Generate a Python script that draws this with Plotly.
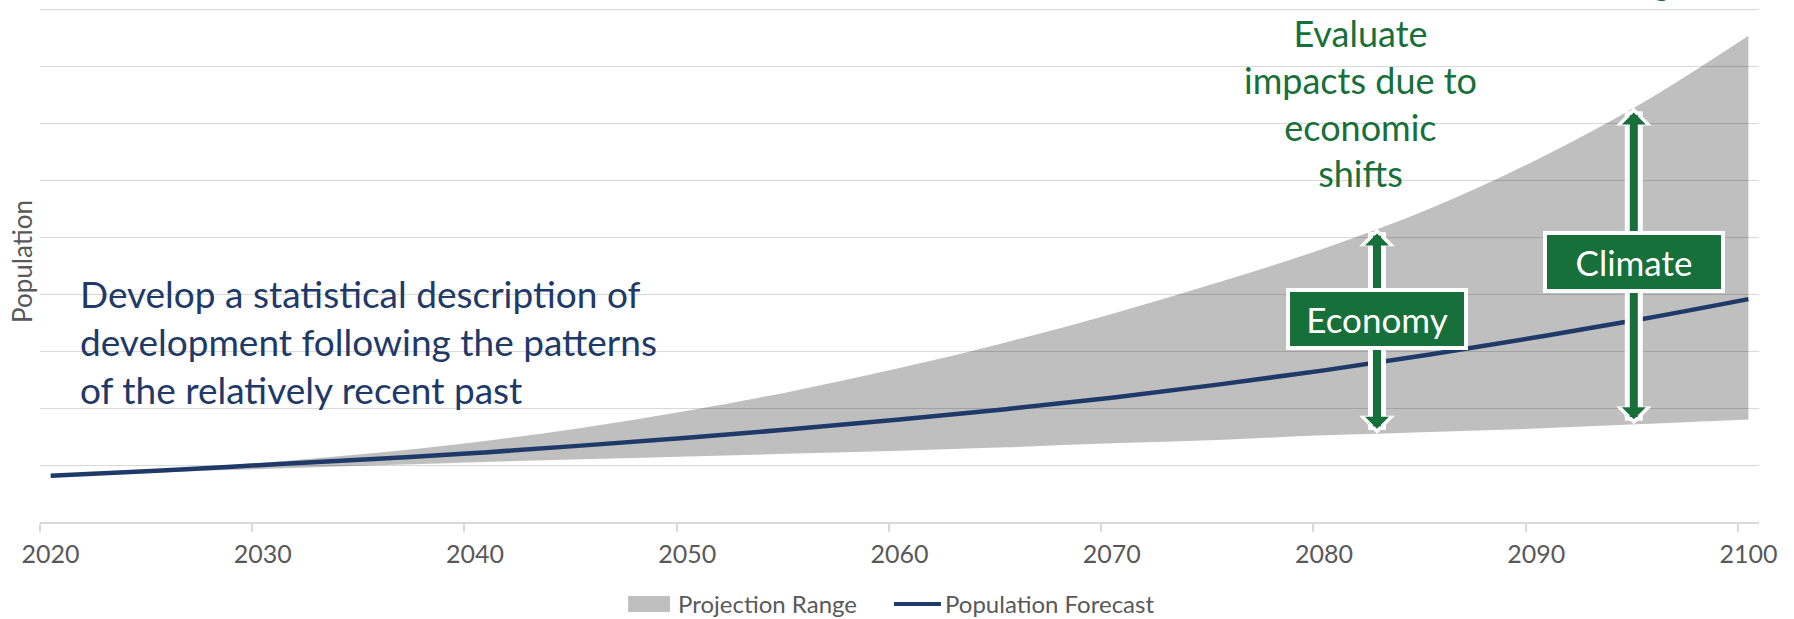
import numpy as np
import plotly.graph_objects as go

# ---- data -------------------------------------------------------------
years = [2020, 2025, 2030, 2035, 2040, 2045, 2050, 2055, 2060,
         2065, 2070, 2075, 2080, 2085, 2090, 2095, 2100]
population_forecast = [0.81, 0.90, 1.00, 1.10, 1.21, 1.34, 1.48, 1.63, 1.80,
                       1.98, 2.18, 2.41, 2.66, 2.94, 3.24, 3.56, 3.91]
range_low = [0.81, 0.87, 0.93, 0.99, 1.05, 1.10, 1.15, 1.20, 1.25,
             1.31, 1.38, 1.44, 1.52, 1.58, 1.64, 1.72, 1.80]
range_high = [0.81, 0.91, 1.04, 1.20, 1.40, 1.65, 1.95, 2.30, 2.70,
              3.15, 3.65, 4.20, 4.80, 5.50, 6.35, 7.35, 8.53]
tick_years = [2020, 2030, 2040, 2050, 2060, 2070, 2080, 2090, 2100]

# driver arrows (year where each double arrow spans the projection range)
economy_year = 2082.5
climate_year = 2094.6

# ---- style ------------------------------------------------------------
FONT = "Lato, 'Open Sans', sans-serif"
GREEN = "#17703A"
NAVY = "#1F3A68"
BAND = "rgba(0,0,0,0.25)"
GRID = "#D9D9D9"
AXIS_TXT = "#595959"

fig = go.Figure()

fig.add_trace(go.Scatter(
    x=years, y=range_low, mode="lines", line=dict(width=0, shape="spline"),
    showlegend=False, hoverinfo="skip"))
fig.add_trace(go.Scatter(
    x=years, y=range_high, mode="lines", line=dict(width=0, shape="spline"),
    fill="tonexty", fillcolor=BAND, name="Projection Range", showlegend=False))
fig.add_trace(go.Scatter(
    x=years, y=population_forecast, mode="lines", name="Population Forecast",
    line=dict(color=NAVY, width=4.5, shape="spline"), showlegend=False))


def double_arrow(xv, label, label_y):
    lo = float(np.interp(xv, years, range_low))
    hi = float(np.interp(xv, years, range_high))
    mid = (lo + hi) / 2
    anns = []
    for end in (hi, lo):
        # white outline underneath, green arrow on top
        anns.append(dict(x=xv, y=end, ax=xv, ay=mid, xref="x", yref="y",
                         axref="x", ayref="y", text="", showarrow=True,
                         arrowhead=1, arrowsize=0.33, arrowwidth=18,
                         arrowcolor="white", standoff=0))
    for end in (hi, lo):
        anns.append(dict(x=xv, y=end, ax=xv, ay=mid, xref="x", yref="y",
                         axref="x", ayref="y", text="", showarrow=True,
                         arrowhead=1, arrowsize=0.5, arrowwidth=8,
                         arrowcolor=GREEN, standoff=5))
    anns.append(dict(x=xv, y=label_y, xref="x", yref="y", text=label,
                     showarrow=False, font=dict(family=FONT, size=35, color="white"),
                     bgcolor=GREEN, bordercolor="white", borderwidth=4,
                     borderpad=4, width=166, height=46))
    return anns


annotations = []
annotations += double_arrow(economy_year, "Economy", 3.56)
annotations += double_arrow(climate_year, "Climate", 4.57)

annotations.append(dict(
    x=0.022, y=0.345, xref="paper", yref="paper", xanchor="left", yanchor="middle",
    align="left", showarrow=False,
    text="Develop a statistical description of<br>development following the patterns<br>of the relatively recent past",
    font=dict(family=FONT, size=37, color=NAVY)))

annotations.append(dict(
    x=2081.7, y=0.802, xref="x", yref="paper", xanchor="center", yanchor="middle",
    align="center", showarrow=False,
    text="Evaluate<br>impacts due to<br>economic<br>shifts",
    font=dict(family=FONT, size=36, color=GREEN)))

annotations.append(dict(
    x=climate_year, y=0.99, xref="x", yref="paper", xanchor="center", yanchor="bottom",
    showarrow=False, text="change",
    font=dict(family=FONT, size=36, color=GREEN)))

annotations.append(dict(
    x=-0.0105, y=0.5, xref="paper", yref="paper", xanchor="center", yanchor="middle",
    textangle=-90, showarrow=False, text="Population",
    font=dict(family=FONT, size=26, color=AXIS_TXT)))

# legend drawn below the axis: swatch + label for each series
LEG_Y = -0.157
annotations.append(dict(
    x=0.370, y=LEG_Y, xref="paper", yref="paper", xanchor="left", yanchor="middle",
    showarrow=False, text="Projection Range",
    font=dict(family=FONT, size=24, color=AXIS_TXT)))
annotations.append(dict(
    x=0.5253, y=LEG_Y, xref="paper", yref="paper", xanchor="left", yanchor="middle",
    showarrow=False, text="Population Forecast",
    font=dict(family=FONT, size=24, color=AXIS_TXT)))
shapes = [
    dict(type="rect", xref="paper", yref="paper", x0=0.3421, x1=0.3665,
         y0=LEG_Y - 0.0153, y1=LEG_Y + 0.0153, fillcolor=BAND, line=dict(width=0)),
    dict(type="line", xref="paper", yref="paper", x0=0.4968, x1=0.5241,
         y0=LEG_Y, y1=LEG_Y, line=dict(color=NAVY, width=4)),
]

fig.update_layout(
    width=1794, height=619,
    margin=dict(l=40, r=35, t=0, b=97, autoexpand=False),
    paper_bgcolor="white", plot_bgcolor="white",
    font=dict(family=FONT, color=AXIS_TXT),
    showlegend=False,
    annotations=annotations,
    shapes=shapes,
)

fig.update_xaxes(
    range=[2019.5, 2100.5], tickmode="array", tickvals=tick_years,
    ticktext=[str(t) for t in tick_years], ticks="", showgrid=False, zeroline=False,
    showline=True, linecolor=GRID, linewidth=1.5, ticklabelstandoff=9,
    tickfont=dict(family=FONT, size=25, color=AXIS_TXT), automargin=False,
    minor=dict(tickmode="array", tickvals=[t - 0.5 for t in tick_years],
               ticks="outside", ticklen=8, tickcolor=GRID, tickwidth=1.5, showgrid=False),
)
fig.update_yaxes(
    range=[0, 522 / 57], dtick=1, tick0=0, showticklabels=False, ticks="",
    showgrid=True, gridcolor=GRID, gridwidth=1.3, zeroline=False, showline=False,
    automargin=False,
)

fig.write_html("out.html")
